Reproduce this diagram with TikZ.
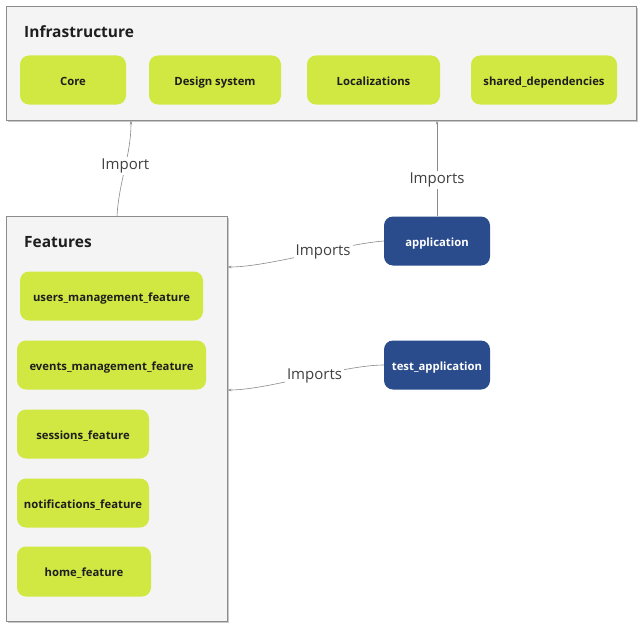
\documentclass[tikz,border=0pt]{standalone}
\usepackage{fontspec}
\setmainfont{Open Sans}
\usetikzlibrary{arrows.meta}
\definecolor{panelfill}{HTML}{F4F4F4}
\definecolor{panelline}{HTML}{8C8C8C}
\definecolor{panelshadow}{HTML}{C8C8C8}
\definecolor{lime}{HTML}{D2E842}
\definecolor{navy}{HTML}{2A4B8C}
\definecolor{wire}{HTML}{8A8A8A}
\definecolor{ink}{HTML}{1E1E1E}
\tikzset{
  panel/.style={draw=panelline, fill=panelfill, line width=0.9pt, anchor=north west, inner sep=0pt},
  paneltitle/.style={anchor=west, font=\fontsize{15.5}{17}\selectfont\bfseries, text=ink, inner sep=0pt},
  module/.style={fill=lime, rounded corners=9pt, inner sep=0pt, minimum height=49pt,
    text height=10pt, text depth=0pt,
    font=\fontsize{11.3}{13}\selectfont\bfseries, text=ink},
  app/.style={fill=navy, rounded corners=9pt, inner sep=0pt, minimum height=49pt, minimum width=106pt,
    text height=10pt, text depth=0pt,
    font=\fontsize{11.3}{13}\selectfont\bfseries, text=white},
  link/.style={draw=wire, line width=0.6pt, -{Stealth[length=3.5pt,width=2.6pt]}},
  linklabel/.style={fill=white, inner sep=2pt, font=\fontsize{15}{17}\selectfont, text=ink!85}
}
\begin{document}
\begin{tikzpicture}[x=1pt,y=-1pt]
\useasboundingbox[fill=white] (0,0) rectangle (642,634);

% soft shadows under the two panels
\fill[panelshadow] (8,8) rectangle (638,122);
\fill[panelshadow] (8,218) rectangle (229,623);

% infrastructure panel
\node[panel, minimum width=630pt, minimum height=114pt] (infra) at (6,6) {};
\node[paneltitle] (infratitle) at (24,32) {Infrastructure};
\node[module, minimum width=106pt] (core) at (73,80) {Core};
\node[module, minimum width=132pt] (design) at (215,80) {Design system};
\node[module, minimum width=133pt] (local) at (373.5,80) {Localizations};
\node[module, minimum width=146pt] (shared) at (544,80) {shared\_dependencies};

% features panel
\node[panel, minimum width=221pt, minimum height=405pt] (feat) at (6,216) {};
\node[paneltitle] (feattitle) at (24,242) {Features};
\node[module, minimum width=183pt] (users) at (111.5,296) {users\_management\_feature};
\node[module, minimum width=189pt] (events) at (111.5,365) {events\_management\_feature};
\node[module, minimum width=132pt] (sessions) at (83,434) {sessions\_feature};
\node[module, minimum width=132pt] (notif) at (83,503) {notifications\_feature};
\node[module, minimum width=134pt, minimum height=50pt] (home) at (84,571.5) {home\_feature};

% applications
\node[app] (application) at (437,241) {application};
\node[app] (testapp) at (437,365) {test\_application};

% dependency connectors
\draw[link] ([xshift=111pt]feat.north west) .. controls +(2,-35) and +(0,35) ..
  node[linklabel, pos=0.53] {Import} ([xshift=125pt]infra.south west);
\draw[link] (application.north) --
  node[linklabel, pos=0.38] {Imports} (application.north |- infra.south);
\draw[link] (application.west) .. controls +(-40,3) and +(40,0) ..
  node[linklabel, pos=0.4] {Imports} ([yshift=-51pt]feat.north east);
\draw[link] (testapp.west) .. controls +(-40,0) and +(40,0) ..
  node[linklabel, pos=0.45] {Imports} ([yshift=-174pt]feat.north east);
\end{tikzpicture}
\end{document}
